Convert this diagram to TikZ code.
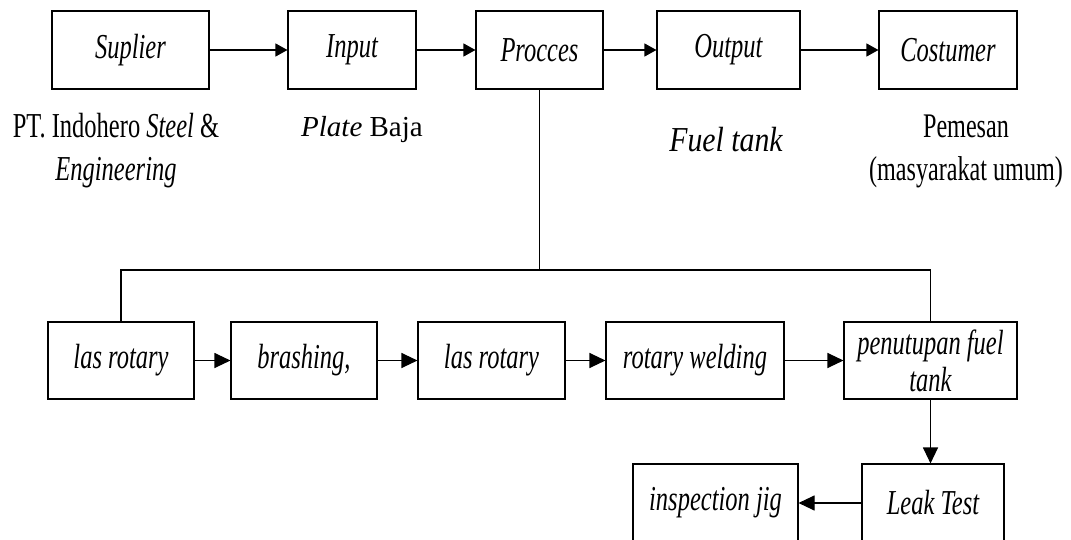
\documentclass[tikz,border=0pt]{standalone}
\usepackage{fontspec}
\setmainfont{Liberation Serif}[FakeStretch=0.7]
\newfontfamily\widefont{Liberation Serif}
\newfontfamily\midfont{Liberation Serif}[FakeStretch=0.85]
\usetikzlibrary{arrows.meta,positioning}

\begin{document}
\begin{tikzpicture}[x=1pt,y=-1pt,>={Triangle[length=12pt,width=13pt]},
  box/.style={draw,line width=1.1pt,minimum height=78pt,inner sep=0pt,align=center,
    font=\fontsize{35}{37}\selectfont\itshape},
  lbl/.style={align=center,font=\fontsize{35}{43}\selectfont},
  link/.style={line width=1.1pt},
  bigtip/.style={-{Triangle[length=16pt,width=15pt]}}]
\clip (0,0) rectangle (1071,540);
% main flow
\node[box,minimum width=157pt] (sup) at (130.5,50) {Suplier};
\node[box,minimum width=128pt] (inp) at (352,50) {Input};
\node[box,minimum width=127pt] (pro) at (539.5,50) {Procces};
\node[box,minimum width=143pt] (out) at (728.5,50) {Output};
\node[box,minimum width=138pt] (cus) at (948,50) {Costumer};
\draw[link,->] (sup) -- (inp);
\draw[link,->] (inp) -- (pro);
\draw[link,->] (pro) -- (out);
\draw[link,->] (out) -- (cus);
\node[lbl] (lsup) at (116,151) {PT. Indohero \textit{Steel} \&\\\textit{Engineering}};
\node[lbl,font=\fontsize{29}{32}\widefont] (linp) at (362,130) {\textit{Plate} Baja};
\node[lbl,font=\fontsize{35}{37}\midfont\itshape] (lout) at (726,140) {Fuel tank};
\node[lbl,font=\fontsize{34.5}{43}\selectfont] (lcus) at (966,151) {Pemesan\\(masyarakat umum)};
% process steps
\node[box,minimum width=146pt,minimum height=77pt] (las1) at (121,360.5) {las rotary};
\node[box,minimum width=146pt,minimum height=77pt] (bra) at (304,360.5) {brashing,};
\node[box,minimum width=147pt,minimum height=77pt] (las2) at (491.5,360.5) {las rotary};
\node[box,minimum width=178pt,minimum height=77pt] (rot) at (695,360.5) {rotary welding};
\node[box,minimum width=173pt,minimum height=77pt] (pen) at (930.5,360.5) {penutupan fuel\\tank};
\node[box,minimum width=142pt] (leak) at (933,503) {Leak Test};
\node[box,minimum width=165pt] (insp) at (715.5,503) {inspection jig};
\coordinate (split) at (539.5,270);
\draw[link] (pro.south) -- (split) -| (las1.north);
\draw[link] (split) -| (pen.north);
\draw[link,bigtip] (las1) -- (bra);
\draw[link,bigtip] (bra) -- (las2);
\draw[link,bigtip] (las2) -- (rot);
\draw[link,bigtip] (rot) -- (pen);
\draw[link,bigtip] (pen.south) -- (pen.south |- leak.north);
\draw[link,bigtip] (leak) -- (insp);
\end{tikzpicture}
\end{document}
